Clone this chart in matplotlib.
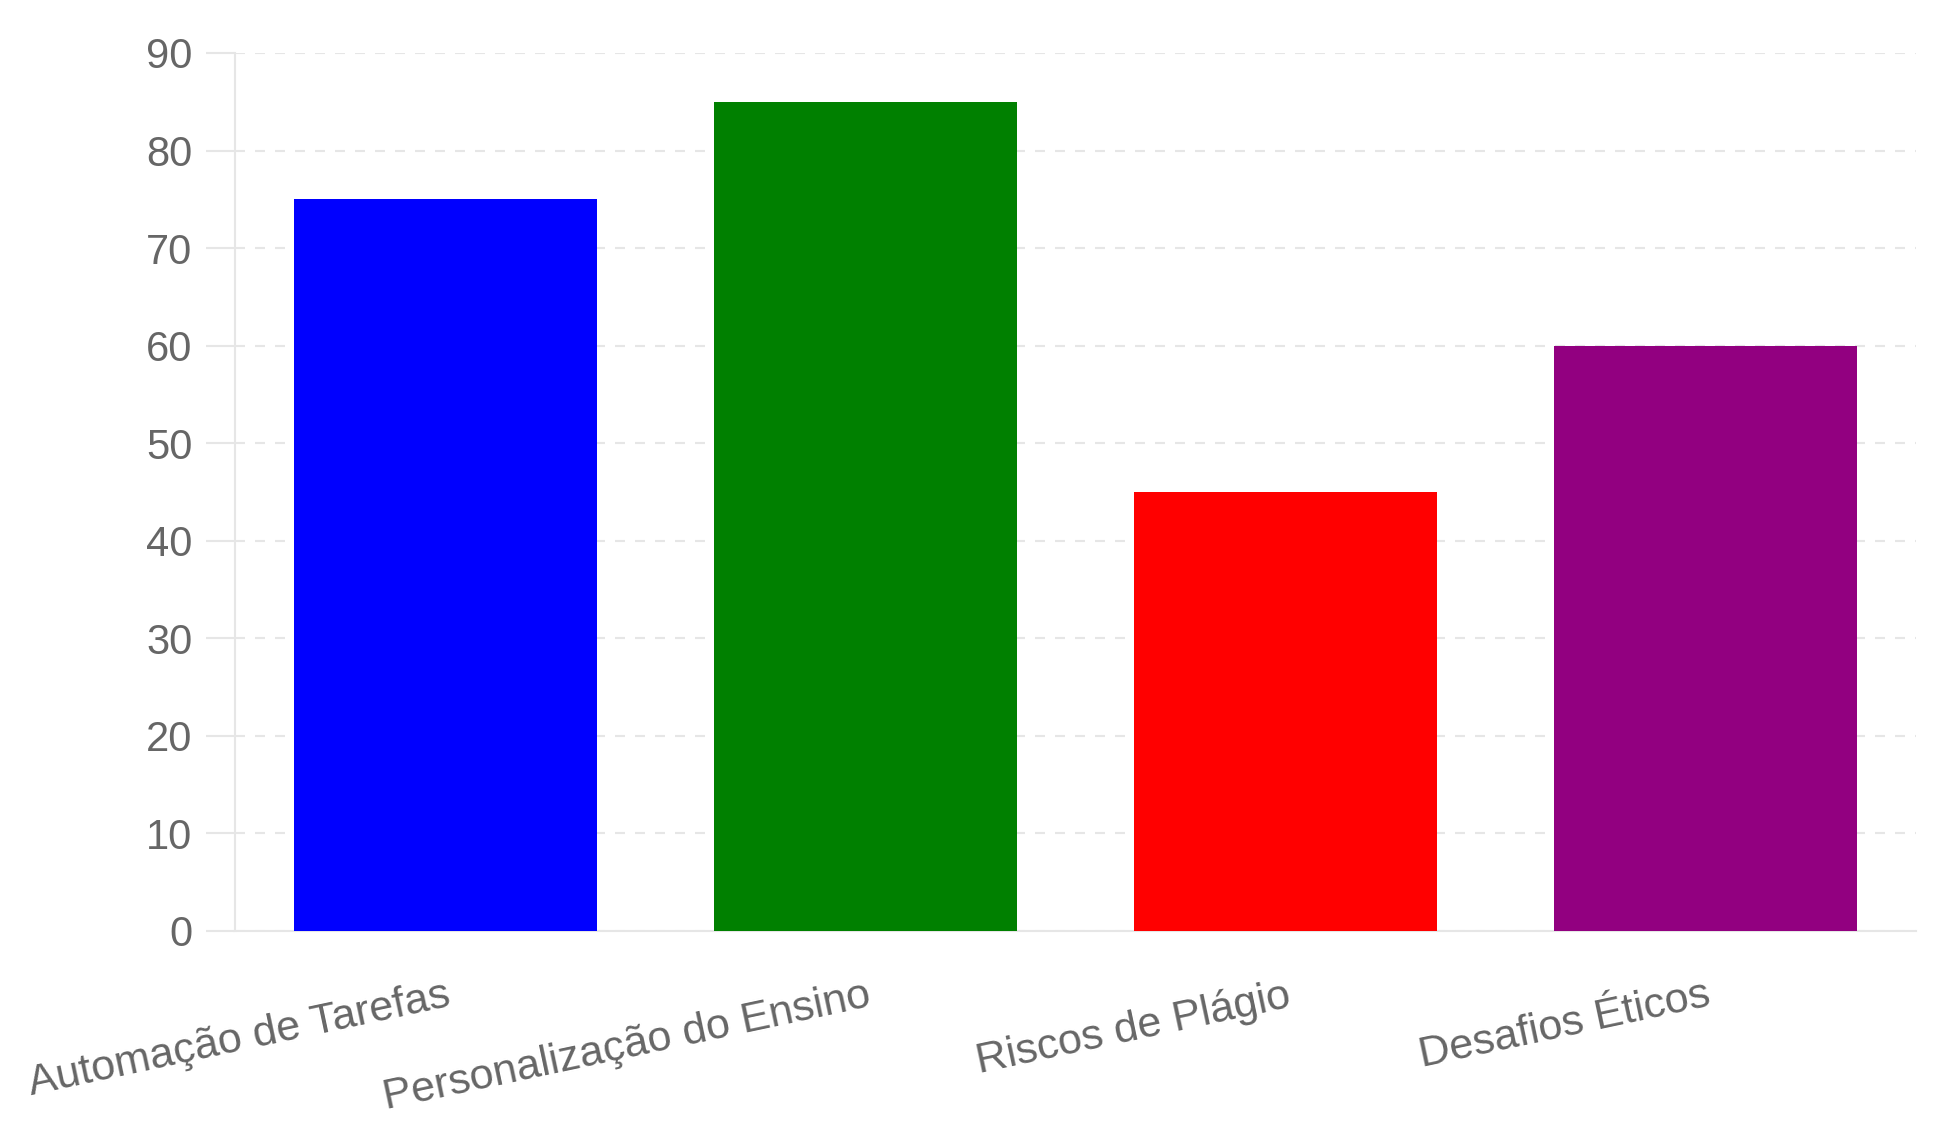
from matplotlib import pyplot as plt

# Data
categories = ['Automação de Tarefas', 'Personalização do Ensino', 'Riscos de Plágio', 'Desafios Éticos']
values = [75, 85, 45, 60]
bar_colors = ['#0000ff', '#008000', '#ff0000', '#920080']
y_ticks = [0, 10, 20, 30, 40, 50, 60, 70, 80, 90]

plt.rcParams['font.family'] = ['Liberation Sans', 'DejaVu Sans']

fig = plt.figure(figsize=(19.43, 11.27), dpi=100)
ax = fig.add_axes([0.1212, 0.174, 0.8647, 0.779])

x = range(len(categories))
ax.bar(x, values, width=0.72, color=bar_colors, zorder=3)

ax.set_xlim(-0.5, len(categories) - 0.5)
ax.set_ylim(0, 90)
ax.set_yticks(y_ticks)
ax.set_xticks(list(x))
ax.set_xticklabels(categories, rotation=12, ha='right', va='top',
                   rotation_mode='anchor')

grid_color = '#e6e6e6'
ax.yaxis.grid(True, color=grid_color, linewidth=1.5, dashes=(4.8, 4.8), zorder=0)
ax.xaxis.grid(False)

for side in ['top', 'right']:
    ax.spines[side].set_visible(False)
for side in ['left', 'bottom']:
    ax.spines[side].set_color(grid_color)
    ax.spines[side].set_linewidth(1.5)

ax.tick_params(axis='y', length=21, width=1.5, color=grid_color, pad=10,
               labelsize=30, labelcolor='#666666')
ax.tick_params(axis='x', length=0, pad=32, labelsize=31, labelcolor='#666666')

fig.savefig('out.png', dpi=100, facecolor='white')
